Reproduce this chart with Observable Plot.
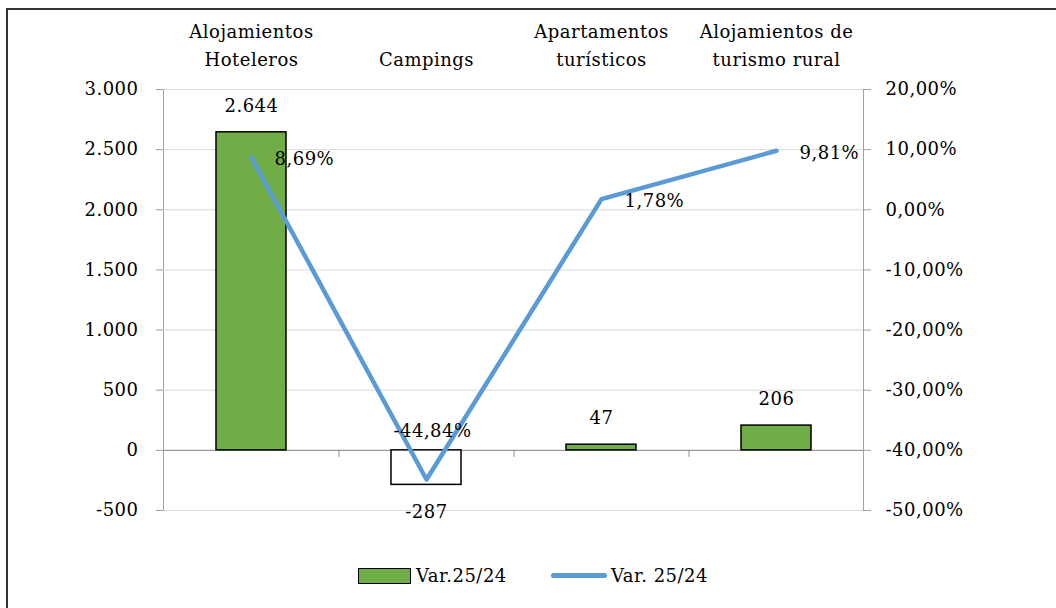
<!DOCTYPE html>
<html><head><meta charset="utf-8">
<script src="https://cdn.jsdelivr.net/npm/d3@7"></script>
<script src="https://cdn.jsdelivr.net/npm/@observablehq/plot@0.6"></script>
<style>
html,body{margin:0;padding:0;background:#fff;overflow:hidden;}
#wrap{position:relative;width:1056px;height:608px;overflow:hidden;}
#border{position:absolute;left:6px;top:8px;width:1200px;height:800px;border-left:2px solid #333;border-top:2px solid #333;pointer-events:none;}
#chart{position:relative;}
#chart svg text{letter-spacing:0.5px;font-family:'DejaVu Serif',serif;}
#legend{position:relative;height:58px;font-family:'DejaVu Serif',serif;font-size:18px;letter-spacing:0.5px;color:#000;}
#legend .sw{position:absolute;box-sizing:border-box;}
#legend .lb{position:absolute;line-height:1;white-space:nowrap;}
</style></head><body>
<div id="wrap">
<div id="border"></div>
<div id="chart"></div>
<div id="legend"></div>
</div>
<script>
// ---- data ----
const categories = ["Alojamientos Hoteleros", "Campings", "Apartamentos turísticos", "Alojamientos de turismo rural"];
const categoryLabels = ["Alojamientos\nHoteleros", "Campings", "Apartamentos\nturísticos", "Alojamientos de\nturismo rural"];
const barValues = [2644, -287, 47, 206];
const pctValues = [8.69, -44.84, 1.78, 9.81];
const leftTicks = [-500, 0, 500, 1000, 1500, 2000, 2500, 3000];
const rightTicks = [-50, -40, -30, -20, -10, 0, 10, 20];
const seriesNames = ["Var.25/24", "Var. 25/24"];

// ---- setup ----
const W = 1056, H = 550;
const mL = 163, mR = 193, mT = 89, mB = 40;
const step = (W - mL - mR) / categories.length;
const green = "#70AD47", blue = "#5B9BD5";
const serif = "'DejaVu Serif',serif";
const loc = d3.formatLocale({decimal: ",", thousands: ".", grouping: [3], currency: ["", ""], minus: "-"});
const fmtNum = loc.format(",d");
const fmtPct = p => loc.format(",.2f")(p) + "%";
// right axis (-50%..20%) mapped onto left axis (-500..3000)
const yDom = [leftTicks[0], leftTicks[leftTicks.length - 1]];
const pDom = [rightTicks[0], rightTicks[rightTicks.length - 1]];
const pctToY = p => yDom[0] + (p - pDom[0]) * (yDom[1] - yDom[0]) / (pDom[1] - pDom[0]);
const yToPct = y => pDom[0] + (y - yDom[0]) * (pDom[1] - pDom[0]) / (yDom[1] - yDom[0]);

const data = categories.map((c, i) => ({cat: c, label: categoryLabels[i], value: barValues[i], pct: pctValues[i]}));

const chart = Plot.plot({
  width: W, height: H,
  marginLeft: mL, marginRight: mR, marginTop: mT, marginBottom: mB,
  style: {fontFamily: serif, fontSize: "18px", color: "#000", background: "transparent"},
  x: {domain: categories, paddingInner: 0.6, paddingOuter: 0.3, axis: null},
  y: {domain: yDom},
  marks: [
    Plot.frame({stroke: "#a0a0a0"}),
    Plot.gridY(leftTicks, {stroke: "#d9d9d9", strokeOpacity: 1}),
    Plot.axisY(leftTicks, {anchor: "left", tickSize: 7, tickPadding: 18, stroke: "#a0a0a0", tickFormat: fmtNum, label: null}),
    Plot.axisY(leftTicks, {anchor: "right", tickSize: 7, tickPadding: 15, stroke: "#a0a0a0", tickFormat: d => fmtPct(yToPct(d)), label: null}),
    Plot.ruleY([0], {stroke: "#8c8c8c"}),
    Plot.ruleX(categories.slice(0, -1), {x: d => d, y1: 0, y2: -7 * (yDom[1] - yDom[0]) / (H - mT - mB), dx: step / 2, stroke: "#8c8c8c"}),
    Plot.barY(data.filter(d => d.value >= 0), {x: "cat", y: "value", fill: green, stroke: "#000", strokeWidth: 1.5}),
    Plot.barY(data.filter(d => d.value < 0), {x: "cat", y: "value", fill: "#fff", stroke: "#000", strokeWidth: 1.5}),
    Plot.text(data, {x: "cat", text: "label", frameAnchor: "top", lineAnchor: "bottom", lineHeight: 1.55, dy: -24, fill: "#000"}),
    Plot.text(data.filter(d => d.value >= 0), {x: "cat", y: "value", text: d => fmtNum(d.value), lineAnchor: "middle", dy: -26, fill: "#000"}),
    Plot.text(data.filter(d => d.value < 0), {x: "cat", y: "value", text: d => fmtNum(d.value), lineAnchor: "middle", dy: 27, fill: "#000"}),
    Plot.lineY(data, {x: "cat", y: d => pctToY(d.pct), stroke: blue, strokeWidth: 4.5, strokeLinecap: "round", strokeLinejoin: "round"}),
    Plot.text(data.filter(d => d.pct >= 0), {x: "cat", y: d => pctToY(d.pct), text: d => fmtPct(d.pct), textAnchor: "start", lineAnchor: "middle", dx: 23, dy: 2, fill: "#000"}),
    Plot.text(data.filter(d => d.pct < 0), {x: "cat", y: d => pctToY(d.pct), text: d => fmtPct(d.pct), textAnchor: "middle", lineAnchor: "middle", dx: 6, dy: -48, fill: "#000"})
  ]
});
document.getElementById("chart").appendChild(chart);

// ---- legend ----
const lg = document.getElementById("legend");
lg.innerHTML =
  `<div class="sw" style="left:358px;top:18px;width:53px;height:16px;background:${green};border:1.5px solid #000"></div>` +
  `<div class="lb" style="left:416px;top:17px">${seriesNames[0]}</div>` +
  `<div class="sw" style="left:551px;top:23px;width:56px;height:5px;background:${blue};border-radius:3px"></div>` +
  `<div class="lb" style="left:611px;top:17px">${seriesNames[1]}</div>`;
</script>
</body></html>
